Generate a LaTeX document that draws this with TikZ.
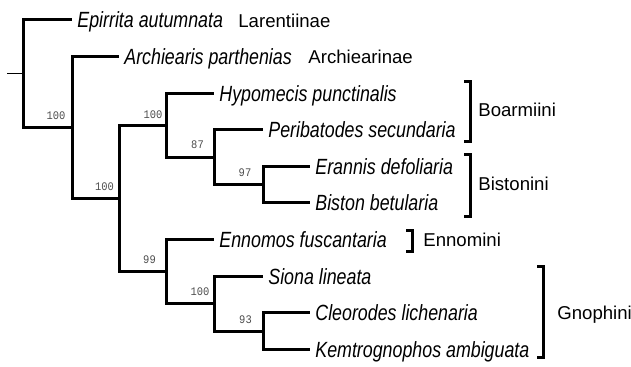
\documentclass[tikz,border=0pt]{standalone}
\usepackage{fontspec}
\setmainfont{Liberation Sans}
\newfontfamily\spfont[FakeStretch=0.81]{Liberation Sans}
\newfontfamily\supfont[FakeStretch=0.9]{Liberation Mono}
\begin{document}
\begin{tikzpicture}[x=0.5pt,y=-0.5pt,
  br/.style={line width=1.5pt, line join=miter},
  leaf/.style={anchor=west, font=\spfont\itshape\fontsize{11pt}{11pt}\selectfont, inner xsep=2.5pt, inner ysep=0pt, text height=7.9pt, text depth=0pt},
  grp/.style={anchor=west, font=\fontsize{9.3pt}{10pt}\selectfont, inner sep=0pt, text height=6.66pt, text depth=0pt},
  sup/.style={font=\supfont\fontsize{5.8pt}{6pt}\selectfont, text=black!70, inner sep=0pt},
  bk/.style={line width=1.5pt, line join=miter}]
\useasboundingbox (0,0) rectangle (631,367);
% internal nodes
\coordinate (R) at (23,73.75);
\coordinate (A) at (72,127.5);
\coordinate (B) at (119,198.4);
\coordinate (C) at (166,125.2);
\coordinate (E) at (214,157.25);
\coordinate (F) at (263,184.7);
\coordinate (D) at (166,271.6);
\coordinate (G) at (214,303.65);
\coordinate (H) at (263,331.1);
\coordinate (stub) at (7,73.75);
% leaves
\node[leaf] (epi) at (72,20) {Epirrita autumnata};
\node[leaf] (arc) at (119,56.6) {Archiearis parthenias};
\node[leaf] (hyp) at (214,93.2) {Hypomecis punctinalis};
\node[leaf] (per) at (263,129.8) {Peribatodes secundaria};
\node[leaf] (era) at (310,166.4) {Erannis defoliaria};
\node[leaf] (bis) at (310,203) {Biston betularia};
\node[leaf] (enn) at (214,239.6) {Ennomos fuscantaria};
\node[leaf] (sio) at (263,276.2) {Siona lineata};
\node[leaf] (cle) at (310,312.8) {Cleorodes lichenaria};
\node[leaf] (kem) at (310,349.4) {Kemtrognophos ambiguata};
% edges
\draw[line width=0.5pt] (stub) -- (R);
\draw[br] (R) |- (epi.west);
\draw[br] (R) |- (A);
\draw[br] (A) |- (arc.west);
\draw[br] (A) |- (B);
\draw[br] (B) |- (C);
\draw[br] (B) |- (D);
\draw[br] (C) |- (hyp.west);
\draw[br] (C) |- (E);
\draw[br] (E) |- (per.west);
\draw[br] (E) |- (F);
\draw[br] (F) |- (era.west);
\draw[br] (F) |- (bis.west);
\draw[br] (D) |- (enn.west);
\draw[br] (D) |- (G);
\draw[br] (G) |- (sio.west);
\draw[br] (G) |- (H);
\draw[br] (H) |- (cle.west);
\draw[br] (H) |- (kem.west);
% support values
\node[sup] (sA) at (56,115.5) {100};
\node[sup] (sC) at (153,114.5) {100};
\node[sup] (sB) at (104.5,186.5) {100};
\node[sup] (sE) at (197.5,144.5) {87};
\node[sup] (sF) at (245,173) {97};
\node[sup] (sD) at (149.5,259.5) {99};
\node[sup] (sG) at (200,291.5) {100};
\node[sup] (sH) at (245.5,319.5) {93};
% group labels
\node[grp] (g1) at (238,20.5) {Larentiinae};
\node[grp] (g2) at (308,57) {Archiearinae};
\node[grp] (g3) at (478,110) {Boarmiini};
\node[grp] (g4) at (478,184) {Bistonini};
\node[grp] (g5) at (423,240) {Ennomini};
\node[grp] (g6) at (557,313) {Gnophini};
% brackets
\draw[bk] (464,82) -- (470,82) -- (470,142) -- (464,142);
\draw[bk] (464,155) -- (470,155) -- (470,217) -- (464,217);
\draw[bk] (406,231) -- (412,231) -- (412,252) -- (406,252);
\draw[bk] (537,267) -- (543,267) -- (543,358) -- (537,358);
\end{tikzpicture}
\end{document}
